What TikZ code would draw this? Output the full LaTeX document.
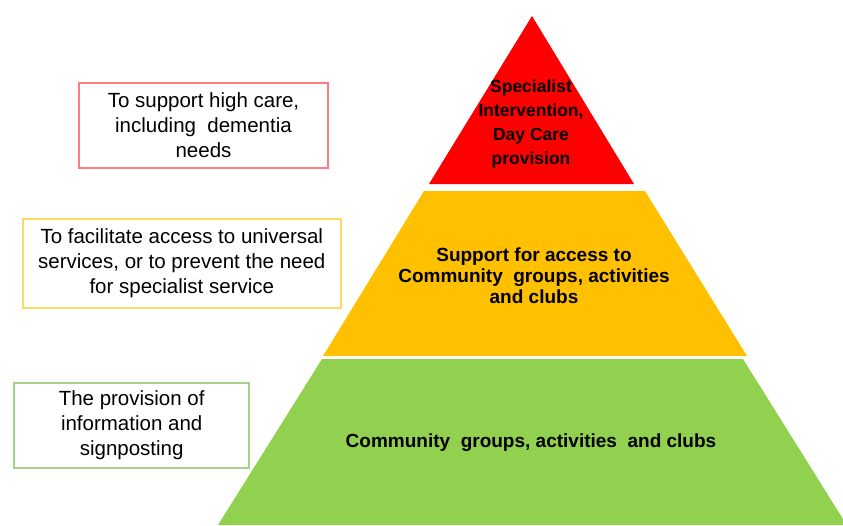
\documentclass[tikz,border=0pt]{standalone}
\usepackage{fontspec}
\setmainfont{Liberation Sans}
\definecolor{pyrred}{HTML}{FF0000}
\definecolor{pyryellow}{HTML}{FFC000}
\definecolor{pyrgreen}{HTML}{92D050}
\definecolor{bred}{HTML}{FF7C80}
\definecolor{byellow}{HTML}{FFD966}
\definecolor{bgreen}{HTML}{A9D18E}
\tikzset{
  infobox/.style={draw=#1, line width=1.8pt, fill=white, align=center, inner sep=0pt,
    font=\fontsize{20.5}{25}\selectfont},
  tiertext/.style={align=center, inner sep=0pt, font=\fontsize{19}{21}\selectfont\bfseries},
  toptext/.style={align=center, inner sep=0pt, font=\fontsize{17.5}{24}\selectfont\bfseries}
}
\begin{document}
\begin{tikzpicture}[x=1pt,y=-1pt]
\useasboundingbox (0,0) rectangle (843,525);
\clip (0,0) rectangle (843,525);
% pyramid tiers
\fill[pyrred] (532,16) -- (634,184) -- (429,184) -- cycle;
\fill[pyryellow] (424,191) -- (645,191) -- (747,356) -- (323,356) -- cycle;
\fill[pyrgreen] (322,359) -- (743,359) -- (843,519) -- (843,525) -- (218,525) -- cycle;
% tier labels
\node[toptext] (t1) at (531,124) {Specialist\\Intervention,\\Day Care\\provision};
\node[tiertext] (t2) at (534,276) {Support for access to\\Community\ \ groups, activities\\and clubs};
\node[tiertext] (t3) at (531,443) {Community\ \ groups, activities\ \ and clubs};
% side boxes
\node[infobox=bred, minimum width=248.5pt, minimum height=85.5pt] (b1) at (203.5,125.5)
  {To support high care,\\including\ \ dementia\\needs};
\node[infobox=byellow, minimum width=318.3pt, minimum height=88.4pt] (b2) at (181.8,263.5)
  {To facilitate access to universal\\services, or to prevent the need\\for specialist service};
\node[infobox=bgreen, minimum width=235.3pt, minimum height=85.6pt] (b3) at (131.7,425.5)
  {The provision of\\information and\\signposting};
\end{tikzpicture}
\end{document}
